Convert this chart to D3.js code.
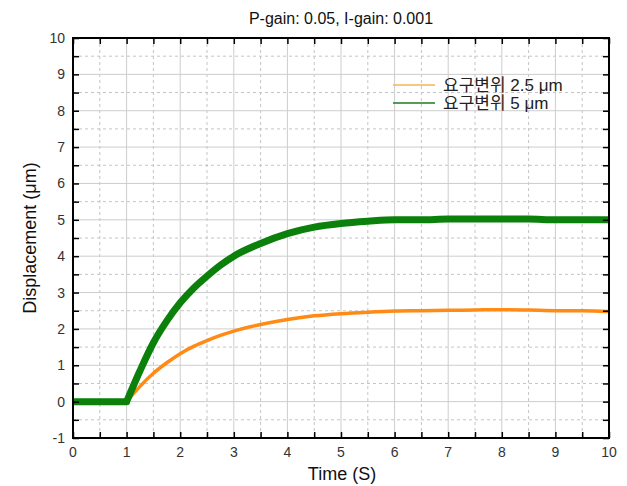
<!DOCTYPE html>
<html>
<head>
<meta charset="utf-8">
<script src="https://cdnjs.cloudflare.com/ajax/libs/d3/7.8.5/d3.min.js"></script>
<style>
  body { margin: 0; background: #fff; }
  text { font-family: "Liberation Sans", Arial, sans-serif; }
</style>
</head>
<body>
<div id="main"></div>
<script>
const w = 627, h = 486;
const pLeft = 73, pRight = 609, pTop = 38, pBottom = 438;

// time (s)
const time = [0, 0.5, 1, 1.25, 1.5, 1.75, 2, 2.25, 2.5, 2.75, 3, 3.5, 4, 4.5, 5, 5.5, 6, 6.5, 7, 7.5, 8, 8.5, 9, 9.5, 10];
// 요구변위 2.5 um
const disp25 = [0, 0, 0, 0.42, 0.78, 1.07, 1.32, 1.52, 1.68, 1.82, 1.94, 2.12, 2.26, 2.36, 2.42, 2.46, 2.49, 2.5, 2.51, 2.52, 2.53, 2.52, 2.5, 2.5, 2.48];
// 요구변위 5 um
const disp5 = [0, 0, 0, 0.85, 1.62, 2.22, 2.72, 3.12, 3.45, 3.75, 4.0, 4.35, 4.62, 4.8, 4.9, 4.96, 5.0, 5.0, 5.02, 5.02, 5.02, 5.02, 5.0, 5.0, 5.0];

const xTicks = [0, 1, 2, 3, 4, 5, 6, 7, 8, 9, 10];
const yTicks = [-1, 0, 1, 2, 3, 4, 5, 6, 7, 8, 9, 10];
const xMinor = d3.range(0.5, 10, 1);
const yMinor = d3.range(-0.5, 10, 1);

const seriesKor = ['요구변위', '요구변위'];
const seriesUnit = [' 2.5 μm', ' 5 μm'];
const seriesColors = ['#ff8a14', '#0b800b'];
const legendColors = ['#f7b354', '#1d7d1d'];

const svg = d3.select('#main').append('svg')
  .attr('width', w).attr('height', h);

const x = d3.scaleLinear().domain([0, 10]).range([pLeft, pRight]);
const y = d3.scaleLinear().domain([-1, 10]).range([pBottom, pTop]);

// grid
const grid = svg.append('g');
grid.selectAll('.vmin').data(xMinor).enter().append('line')
  .attr('x1', d => x(d)).attr('x2', d => x(d)).attr('y1', pTop).attr('y2', pBottom)
  .attr('stroke', '#c4c4c4').attr('stroke-dasharray', '3,3');
grid.selectAll('.hmin').data(yMinor).enter().append('line')
  .attr('y1', d => y(d)).attr('y2', d => y(d)).attr('x1', pLeft).attr('x2', pRight)
  .attr('stroke', '#c4c4c4').attr('stroke-dasharray', '3,3');
grid.selectAll('.vmaj').data(xTicks).enter().append('line')
  .attr('x1', d => x(d)).attr('x2', d => x(d)).attr('y1', pTop).attr('y2', pBottom)
  .attr('stroke', '#cdcdcd');
grid.selectAll('.hmaj').data(yTicks).enter().append('line')
  .attr('y1', d => y(d)).attr('y2', d => y(d)).attr('x1', pLeft).attr('x2', pRight)
  .attr('stroke', '#cdcdcd');

// data lines
svg.append('clipPath').attr('id', 'clip').append('rect')
  .attr('x', pLeft).attr('y', pTop).attr('width', pRight - pLeft).attr('height', pBottom - pTop);

// flat part straight, step response smooth, with a sharp corner at t = 1
const line = vals => {
  const pts = vals.map((v, i) => [x(time[i]), y(v)]);
  const k = time.indexOf(1);
  return d3.line()(pts.slice(0, k + 1)) +
    d3.line().curve(d3.curveMonotoneX)(pts.slice(k));
};

const plot = svg.append('g').attr('clip-path', 'url(#clip)');
plot.append('path').attr('d', line(disp25))
  .attr('fill', 'none').attr('stroke', seriesColors[0]).attr('stroke-width', 3.5)
  .attr('stroke-linejoin', 'round').attr('stroke-linecap', 'round');
plot.append('path').attr('d', line(disp5))
  .attr('fill', 'none').attr('stroke', seriesColors[1]).attr('stroke-width', 7)
  .attr('stroke-linejoin', 'round').attr('stroke-linecap', 'round');

// axes (ticks inside)
const axB = d3.axisBottom(x).tickValues(d3.range(0, 10.01, 0.5)).tickSize(-6).tickFormat('');
const axT = d3.axisTop(x).tickValues(d3.range(0, 10.01, 0.5)).tickSize(-6).tickFormat('');
const axL = d3.axisLeft(y).tickValues(d3.range(-1, 10.01, 0.5)).tickSize(-6).tickFormat('');
const axR = d3.axisRight(y).tickValues(d3.range(-1, 10.01, 0.5)).tickSize(-6).tickFormat('');

[[axB, `translate(0,${pBottom})`], [axT, `translate(0,${pTop})`],
 [axL, `translate(${pLeft},0)`], [axR, `translate(${pRight},0)`]].forEach(([ax, tr]) => {
  const g = svg.append('g').attr('transform', tr).call(ax);
  g.select('.domain').remove();
  g.selectAll('line').attr('stroke', '#000').attr('stroke-width', 1.5);
});

svg.append('rect')
  .attr('x', pLeft).attr('y', pTop).attr('width', pRight - pLeft).attr('height', pBottom - pTop)
  .attr('fill', 'none').attr('stroke', '#000').attr('stroke-width', 2);

// tick labels
svg.selectAll('.xl').data(xTicks).enter().append('text')
  .attr('x', d => x(d)).attr('y', pBottom + 19)
  .attr('text-anchor', 'middle').attr('font-size', 14).attr('fill', '#333')
  .text(d => d);
svg.selectAll('.yl').data(yTicks).enter().append('text')
  .attr('x', pLeft - 8).attr('y', d => y(d) + 5)
  .attr('text-anchor', 'end').attr('font-size', 14).attr('fill', '#333')
  .text(d => d);

// titles
svg.append('text').attr('x', 341).attr('y', 24)
  .attr('text-anchor', 'middle').attr('font-size', 16).attr('fill', '#111')
  .text('P-gain: 0.05, I-gain: 0.001');
svg.append('text').attr('x', 342).attr('y', 480)
  .attr('text-anchor', 'middle').attr('font-size', 18).attr('fill', '#111')
  .text('Time (S)');
svg.append('text')
  .attr('transform', 'translate(36,' + (pTop + pBottom) / 2 + ') rotate(-90)')
  .attr('text-anchor', 'middle').attr('font-size', 18).attr('fill', '#111')
  .text('Displacement (μm)');

// legend
const legend = svg.append('g').attr('transform', 'translate(393,85)');
seriesKor.forEach((name, i) => {
  legend.append('line')
    .attr('x1', 0).attr('x2', 42).attr('y1', i * 18).attr('y2', i * 18)
    .attr('stroke', legendColors[i]).attr('stroke-width', 1.5);
  const t = legend.append('text')
    .attr('x', 50).attr('y', i * 18 + 6)
    .attr('font-size', 17).attr('fill', '#222');
  t.append('tspan')
    .style('font-family', '"Noto Sans CJK KR", sans-serif')
    .text(name);
  t.append('tspan').text(seriesUnit[i]);
});
</script>
</body>
</html>
